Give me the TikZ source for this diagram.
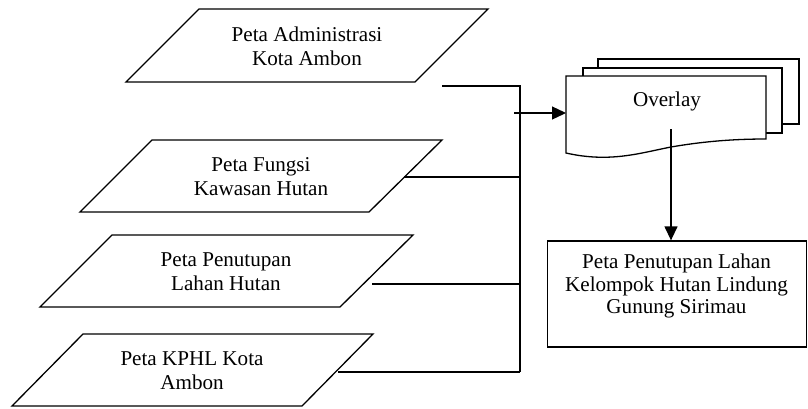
\documentclass[tikz,border=0pt]{standalone}
\usepackage{fontspec}
\setmainfont{Liberation Serif}
\usetikzlibrary{arrows.meta}
\tikzset{
  shp/.style={draw=black, line width=1.3pt, fill=white, line join=miter},
  conn/.style={draw=black, line width=1.3pt},
  arr/.style={conn, -{Triangle[length=14pt,width=13pt]}},
  txt/.style={align=center, font=\fontsize{21.1}{24}\selectfont, inner sep=0pt},
}
\begin{document}
\begin{tikzpicture}[x=1pt,y=-1pt]
\useasboundingbox (0,0) rectangle (808,408);

% parallelograms
\path[shp] (126,82)--(199,9)--(488,9)--(415,82)--cycle;
\node[txt] (p1) at (307,46) {Peta Administrasi\\Kota Ambon};
\path[shp] (80,212)--(152,140)--(442,140)--(369,212)--cycle;
\node[txt] (p2) at (261,177) {Peta Fungsi\\Kawasan Hutan};
\path[shp] (40,307)--(112,235)--(413,235)--(340,307)--cycle;
\node[txt] (p3) at (226,272) {Peta Penutupan\\Lahan Hutan};
\path[shp] (12,406)--(83,334)--(373,334)--(302,406)--cycle;
\node[txt] (p4) at (192,371) {Peta KPHL Kota\\Ambon};

% connector coordinates
\coordinate (c1) at (442,86);
\coordinate (c2) at (404,177);
\coordinate (c3) at (372,284);
\coordinate (c4) at (338,372);
\coordinate (bus) at (520,86);
\coordinate (arrstart) at (514,113);

% overlay multi-document
\path[shp] (598,124)--(598,59)--(799,59)--(799,124)--cycle;
\path[shp] (583,133)--(583,68)--(782,68)--(782,133)--cycle;
\path[shp] (566,153)--(566,76)--(766,76)--(766,139)
  .. controls (730,139) and (700,142) .. (671,147)
  .. controls (640,153) and (610,163) .. (566,153) -- cycle;
\node[txt] (ov) at (667,101) {Overlay};
\coordinate (ovleft) at (566,113);
\coordinate (ovbot) at (671,129);

% result box
\node[draw, line width=1.3pt, minimum width=259pt, minimum height=106pt, inner sep=0pt] (res) at (677,294) {};
\node[align=center, inner sep=0pt, font=\fontsize{21.1}{22.5}\selectfont] (restext) at (676.5,286) {Peta Penutupan Lahan\\Kelompok Hutan Lindung\\Gunung Sirimau};

% connectors
\draw[conn] (c1) -- (bus) -- (bus |- c4);
\draw[conn] (c2) -- (bus |- c2);
\draw[conn] (c3) -- (bus |- c3);
\draw[conn] (c4) -- (bus |- c4);
\draw[arr] (arrstart) -- (ovleft);
\draw[arr] (ovbot) -- (ovbot |- res.north);
\end{tikzpicture}
\end{document}
